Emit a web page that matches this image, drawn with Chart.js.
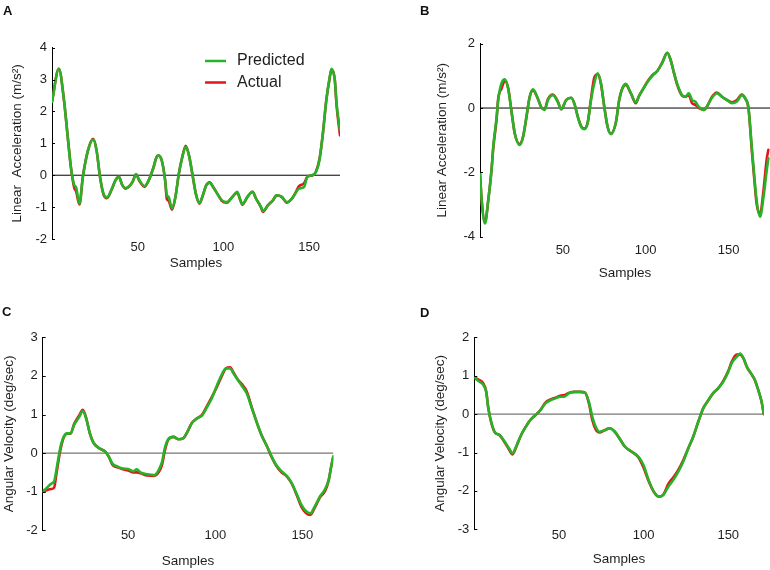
<!DOCTYPE html>
<html>
<head>
<meta charset="utf-8">
<script src="https://cdn.jsdelivr.net/npm/chart.js@4"></script>
<style>
  body { margin: 0; background: #fff; }
  #wrap { position: relative; width: 770px; height: 570px; font-family: 'Liberation Sans', Arial, sans-serif; }
  .panel { position: absolute; width: 385px; height: 285px; }
  .tag { position: absolute; font-weight: bold; font-size: 13px; color: #111; line-height: 13px; }
</style>
</head>
<body>
<div id="wrap">
  <div class="panel" style="left:0;top:0"><canvas id="chartA" width="385" height="285"></canvas></div>
  <div class="panel" style="left:385px;top:0"><canvas id="chartB" width="385" height="285"></canvas></div>
  <div class="panel" style="left:0;top:285px"><canvas id="chartC" width="385" height="285"></canvas></div>
  <div class="panel" style="left:385px;top:285px"><canvas id="chartD" width="385" height="285"></canvas></div>
  <div class="tag" style="left:3px;top:4px">A</div>
  <div class="tag" style="left:420px;top:4px">B</div>
  <div class="tag" style="left:2px;top:305px">C</div>
  <div class="tag" style="left:420px;top:306px">D</div>
</div>
<script>
// --- Data ---
const xTicks = [50, 100, 150];

// A: linear acceleration
const samplesA = [0, 4, 7, 9, 11, 13, 14, 16, 18, 21, 24, 26, 28, 30, 32, 35, 37, 39, 41, 43, 47, 49, 51, 54, 56, 59, 61, 62, 64, 66, 67, 68, 70, 72, 74, 76, 78, 80, 82, 84, 86, 88, 90, 92, 94, 97, 99, 102, 104, 106, 108, 110, 111, 114, 117, 119, 122, 123, 126, 129, 131, 134, 137, 140, 142, 144, 147, 149, 152, 154, 156, 158, 160, 162, 163, 165, 166, 168];
const predictedA = [2.3, 3.34, 2.35, 1.3, 0.26, -0.31, -0.37, -0.89, -0.05, 0.78, 1.12, 0.78, -0.05, -0.57, -0.7, -0.42, -0.16, -0.05, -0.31, -0.4, -0.21, 0.03, -0.16, -0.34, -0.21, 0.21, 0.57, 0.62, 0.47, -0.16, -0.63, -0.68, -1.04, -0.68, 0.05, 0.57, 0.89, 0.6, 0.0, -0.6, -0.87, -0.63, -0.31, -0.24, -0.37, -0.63, -0.78, -0.84, -0.76, -0.63, -0.52, -0.8, -0.91, -0.68, -0.52, -0.73, -1.0, -1.12, -0.94, -0.78, -0.63, -0.68, -0.84, -0.73, -0.57, -0.42, -0.37, -0.05, 0, 0.1, 0.47, 1.3, 2.35, 3.08, 3.34, 2.97, 2.24, 1.41];
const actualA = [2.3, 3.34, 2.35, 1.3, 0.26, -0.4, -0.5, -0.92, -0.05, 0.78, 1.14, 0.78, -0.05, -0.6, -0.72, -0.42, -0.16, -0.05, -0.31, -0.42, -0.21, 0.03, -0.18, -0.36, -0.21, 0.21, 0.57, 0.62, 0.47, -0.16, -0.75, -0.8, -1.08, -0.68, 0.05, 0.57, 0.92, 0.6, 0.0, -0.6, -0.89, -0.63, -0.31, -0.22, -0.37, -0.63, -0.8, -0.86, -0.76, -0.63, -0.55, -0.8, -0.93, -0.68, -0.52, -0.73, -1.02, -1.15, -0.94, -0.78, -0.63, -0.68, -0.86, -0.73, -0.55, -0.35, -0.25, -0.05, 0, 0.12, 0.5, 1.3, 2.35, 3.05, 3.3, 2.97, 2.2, 1.25];

// B: linear acceleration
const samplesB = [0, 1, 3, 5, 7, 8, 10, 11, 13, 15, 17, 19, 21, 24, 26, 28, 30, 32, 35, 37, 39, 41, 44, 47, 49, 52, 55, 57, 59, 61, 63, 65, 67, 69, 71, 73, 75, 77, 79, 82, 84, 86, 88, 91, 94, 96, 99, 101, 104, 107, 110, 113, 115, 117, 119, 122, 124, 126, 128, 130, 132, 135, 137, 140, 143, 146, 149, 152, 155, 158, 160, 162, 164, 165.5, 167, 169, 171, 173, 174];
const predictedB = [-2.03, -2.86, -3.59, -2.86, -1.9, -1.2, -0.3, 0.25, 0.77, 0.89, 0.6, -0.1, -0.79, -1.15, -0.89, -0.27, 0.35, 0.58, 0.28, 0.02, -0.06, 0.25, 0.4, 0.18, -0.04, 0.25, 0.32, 0.13, -0.27, -0.58, -0.66, -0.45, 0.25, 0.77, 1.08, 0.77, 0.04, -0.58, -0.81, -0.45, 0.25, 0.62, 0.75, 0.46, 0.18, 0.38, 0.64, 0.8, 1.0, 1.15, 1.4, 1.72, 1.5, 1.1, 0.75, 0.4, 0.35, 0.46, 0.25, 0.2, 0.04, -0.06, 0.05, 0.32, 0.46, 0.35, 0.25, 0.15, 0.2, 0.4, 0.3, 0.0, -1.2, -2.1, -2.9, -3.38, -2.8, -1.95, -1.56];
const actualB = [-2.03, -2.86, -3.55, -2.86, -1.9, -1.25, -0.35, 0.3, 0.6, 0.85, 0.62, -0.1, -0.8, -1.12, -0.89, -0.3, 0.35, 0.55, 0.28, 0.02, -0.04, 0.28, 0.42, 0.2, -0.04, 0.25, 0.32, 0.13, -0.27, -0.56, -0.64, -0.45, 0.3, 0.95, 1.05, 0.75, 0.04, -0.58, -0.8, -0.45, 0.25, 0.62, 0.72, 0.46, 0.15, 0.38, 0.64, 0.82, 1.02, 1.15, 1.42, 1.72, 1.5, 1.1, 0.72, 0.38, 0.35, 0.4, 0.15, 0.1, 0.0, -0.06, 0.05, 0.35, 0.48, 0.35, 0.25, 0.18, 0.25, 0.42, 0.3, 0.0, -1.3, -2.2, -3.0, -3.3, -2.6, -1.6, -1.3];

// C: angular velocity
const samplesC = [1, 4, 6, 7.5, 9, 11, 13, 15, 17, 19, 22, 24, 26, 28, 30, 33, 37, 39, 41, 44, 47, 50, 53, 55, 57, 61, 65, 67.5, 69.5, 71, 73, 76, 79, 81.5, 84, 86.5, 89.5, 92.5, 95, 98, 101, 104, 106, 108.5, 110.5, 113, 115, 118, 121, 124, 126.5, 129.5, 132.5, 135, 138, 141, 144, 147, 149.5, 152, 154.5, 157, 160, 163, 165, 166.5, 167.7];
const predictedC = [-1.0, -0.87, -0.79, -0.74, -0.4, 0.12, 0.42, 0.51, 0.51, 0.73, 0.94, 1.09, 0.88, 0.52, 0.28, 0.14, 0.03, -0.1, -0.27, -0.35, -0.4, -0.41, -0.47, -0.42, -0.5, -0.55, -0.57, -0.44, -0.22, 0.12, 0.36, 0.42, 0.36, 0.38, 0.55, 0.77, 0.9, 0.98, 1.17, 1.42, 1.76, 2.06, 2.19, 2.2, 2.06, 1.89, 1.76, 1.55, 1.16, 0.77, 0.47, 0.19, -0.1, -0.31, -0.47, -0.59, -0.79, -1.09, -1.35, -1.5, -1.56, -1.39, -1.13, -0.93, -0.7, -0.35, -0.09];
const actualC = [-1.0, -0.95, -0.93, -0.9, -0.5, 0.05, 0.4, 0.5, 0.5, 0.75, 0.98, 1.12, 0.9, 0.52, 0.28, 0.14, 0.03, -0.1, -0.3, -0.37, -0.42, -0.45, -0.5, -0.5, -0.52, -0.58, -0.59, -0.5, -0.3, 0.05, 0.34, 0.42, 0.36, 0.38, 0.55, 0.78, 0.9, 1.0, 1.2, 1.45, 1.72, 2.02, 2.19, 2.22, 2.08, 1.9, 1.8, 1.6, 1.18, 0.77, 0.47, 0.19, -0.12, -0.33, -0.5, -0.6, -0.8, -1.12, -1.4, -1.55, -1.6, -1.42, -1.15, -0.98, -0.72, -0.35, -0.09];

// D: angular velocity
const samplesD = [0, 2.4, 5.3, 7, 8.3, 10, 12, 15, 18, 20.5, 22.6, 25, 27.6, 30, 33, 36, 39, 42, 45, 48, 50.6, 53.5, 56.5, 59.4, 62.4, 65.4, 67.7, 69.7, 71.7, 74, 77, 80, 83, 86, 89, 93, 97, 100, 103, 106, 109, 111.6, 114.6, 117.5, 120.5, 123.4, 126.4, 129.3, 132.3, 135.2, 138.2, 141, 144, 147, 150, 152, 155, 157, 159, 161, 163.4, 165.7, 167.7, 169.7, 171];
const predictedD = [0.95, 0.86, 0.76, 0.58, 0.15, -0.2, -0.46, -0.55, -0.72, -0.89, -1.02, -0.81, -0.55, -0.36, -0.16, -0.03, 0.1, 0.28, 0.36, 0.41, 0.45, 0.46, 0.56, 0.58, 0.58, 0.56, 0.32, -0.07, -0.33, -0.46, -0.42, -0.37, -0.46, -0.65, -0.85, -0.98, -1.11, -1.33, -1.72, -2.02, -2.15, -2.11, -1.89, -1.72, -1.5, -1.24, -0.89, -0.59, -0.2, 0.15, 0.36, 0.54, 0.67, 0.84, 1.1, 1.32, 1.49, 1.58, 1.45, 1.23, 1.06, 0.89, 0.63, 0.32, 0];
const actualD = [0.95, 0.9, 0.8, 0.6, 0.15, -0.22, -0.47, -0.55, -0.74, -0.92, -1.05, -0.83, -0.55, -0.36, -0.16, -0.03, 0.1, 0.3, 0.38, 0.43, 0.48, 0.5, 0.56, 0.58, 0.58, 0.56, 0.28, -0.15, -0.4, -0.48, -0.42, -0.37, -0.46, -0.65, -0.85, -0.98, -1.13, -1.4, -1.75, -2.02, -2.15, -2.1, -1.82, -1.65, -1.45, -1.2, -0.89, -0.59, -0.2, 0.15, 0.36, 0.54, 0.67, 0.86, 1.12, 1.36, 1.55, 1.55, 1.45, 1.23, 1.06, 0.89, 0.63, 0.32, 0];

const GREEN = '#27b327';
const RED = '#e3141c';
const TEXT = '#1e1e1e';

Chart.defaults.font.family = "'Liberation Sans', Arial, sans-serif";
Chart.defaults.color = TEXT;

// small inward tick marks on the y axis, like the original
const inwardTicks = {
    id: 'inwardTicks',
    afterDatasetsDraw(chart) {
        const yScale = chart.scales.y;
        const left = chart.chartArea.left;
        const c = chart.ctx;
        c.save();
        c.strokeStyle = '#000';
        c.lineWidth = 1;
        yScale.ticks.forEach(t => {
            const py = Math.round(yScale.getPixelForValue(t.value)) + 0.5;
            c.beginPath();
            c.moveTo(left, py);
            c.lineTo(left + 3, py);
            c.stroke();
        });
        c.restore();
    }
};

// legend inside panel A
const legendA = {
    id: 'legendA',
    afterDraw(chart) {
        const c = chart.ctx;
        c.save();
        c.font = "16px 'Liberation Sans', Arial, sans-serif";
        c.textBaseline = 'middle';
        c.fillStyle = TEXT;
        chart.data.datasets.slice(0, 2).forEach((ds, i) => {
            const y = 61 + i * 21.5;
            c.strokeStyle = ds.borderColor;
            c.lineWidth = 2.5;
            c.beginPath();
            c.moveTo(205, y);
            c.lineTo(226, y);
            c.stroke();
            c.fillText(ds.label, 237, y);
        });
        c.restore();
    }
};

function makePanel(id, cfg) {
    const pts = arr => cfg.samples.map((x, i) => ({ x: x, y: arr[i] }));
    return new Chart(document.getElementById(id), {
        type: 'line',
        data: {
            datasets: [
                { label: 'Predicted', data: pts(cfg.predicted), borderColor: GREEN, borderWidth: 2.6 },
                { label: 'Actual', data: pts(cfg.actual), borderColor: RED, borderWidth: 2.6 },
                { label: 'zero', data: [{ x: cfg.xMin, y: 0 }, { x: cfg.xMax, y: 0 }], borderColor: cfg.zeroColor, borderWidth: 1, cubicInterpolationMode: 'default', tension: 0 }
            ]
        },
        options: {
            responsive: false,
            animation: false,
            layout: { padding: cfg.pad },
            plugins: { legend: { display: false }, tooltip: { enabled: false } },
            elements: {
                point: { radius: 0 },
                line: { cubicInterpolationMode: 'monotone', borderJoinStyle: 'round', borderCapStyle: 'round' }
            },
            scales: {
                x: {
                    type: 'linear',
                    min: cfg.xMin,
                    max: cfg.xMax,
                    afterBuildTicks: s => { s.ticks = xTicks.map(v => ({ value: v })); },
                    afterFit: s => { s.height = cfg.xHeight; },
                    grid: { display: false, drawTicks: false },
                    border: { display: false },
                    ticks: { font: { size: 13 }, padding: cfg.xTickPad, maxRotation: 0 },
                    title: { display: true, text: 'Samples', font: { size: 13.5 }, padding: 0 }
                },
                y: {
                    min: cfg.yTicks[0],
                    max: cfg.yTicks[cfg.yTicks.length - 1],
                    afterBuildTicks: s => { s.ticks = cfg.yTicks.map(v => ({ value: v })); },
                    afterFit: s => { s.width = cfg.yWidth; },
                    grid: { drawOnChartArea: false, drawTicks: false },
                    border: { display: true, color: '#000', width: 1 },
                    ticks: { font: { size: 13 }, padding: 5 },
                    title: { display: true, text: cfg.yTitle, font: { size: 13.5 }, padding: 0 }
                }
            }
        },
        plugins: cfg.legend ? [inwardTicks, legendA] : [inwardTicks]
    });
}

makePanel('chartA', {
    samples: samplesA, predicted: predictedA, actual: actualA,
    xMin: 0, xMax: 168, yTicks: [-2, -1, 0, 1, 2, 3, 4],
    yTitle: 'Linear  Acceleration (m/s²)', zeroColor: '#000',
    pad: { left: 9, top: 47.7, right: 45, bottom: 13.9 }, yWidth: 43, xHeight: 32.1, xTickPad: 1,
    legend: true
});
makePanel('chartB', {
    samples: samplesB, predicted: predictedB, actual: actualB,
    xMin: 0, xMax: 175, yTicks: [-4, -2, 0, 2],
    yTitle: 'Linear Acceleration (m/s²)', zeroColor: '#000',
    pad: { left: 49.2, top: 43.7, right: 0, bottom: 3.9 }, yWidth: 45.8, xHeight: 44.4, xTickPad: 5.8
});
makePanel('chartC', {
    samples: samplesC, predicted: predictedC, actual: actualC,
    xMin: 1, xMax: 167.7, yTicks: [-2, -1, 0, 1, 2, 3],
    yTitle: 'Angular Velocity (deg/sec)', zeroColor: '#555',
    pad: { left: 0.7, top: 52.3, right: 51.7, bottom: 0.9 }, yWidth: 42, xHeight: 38.8, xTickPad: -2.4
});
makePanel('chartD', {
    samples: samplesD, predicted: predictedD, actual: actualD,
    xMin: 0, xMax: 171, yTicks: [-3, -2, -1, 0, 1, 2],
    yTitle: 'Angular Velocity (deg/sec)', zeroColor: '#555',
    pad: { left: 47.4, top: 52.3, right: 6.2, bottom: 2.9 }, yWidth: 41.9, xHeight: 37.8, xTickPad: -2.1
});
</script>
</body>
</html>
